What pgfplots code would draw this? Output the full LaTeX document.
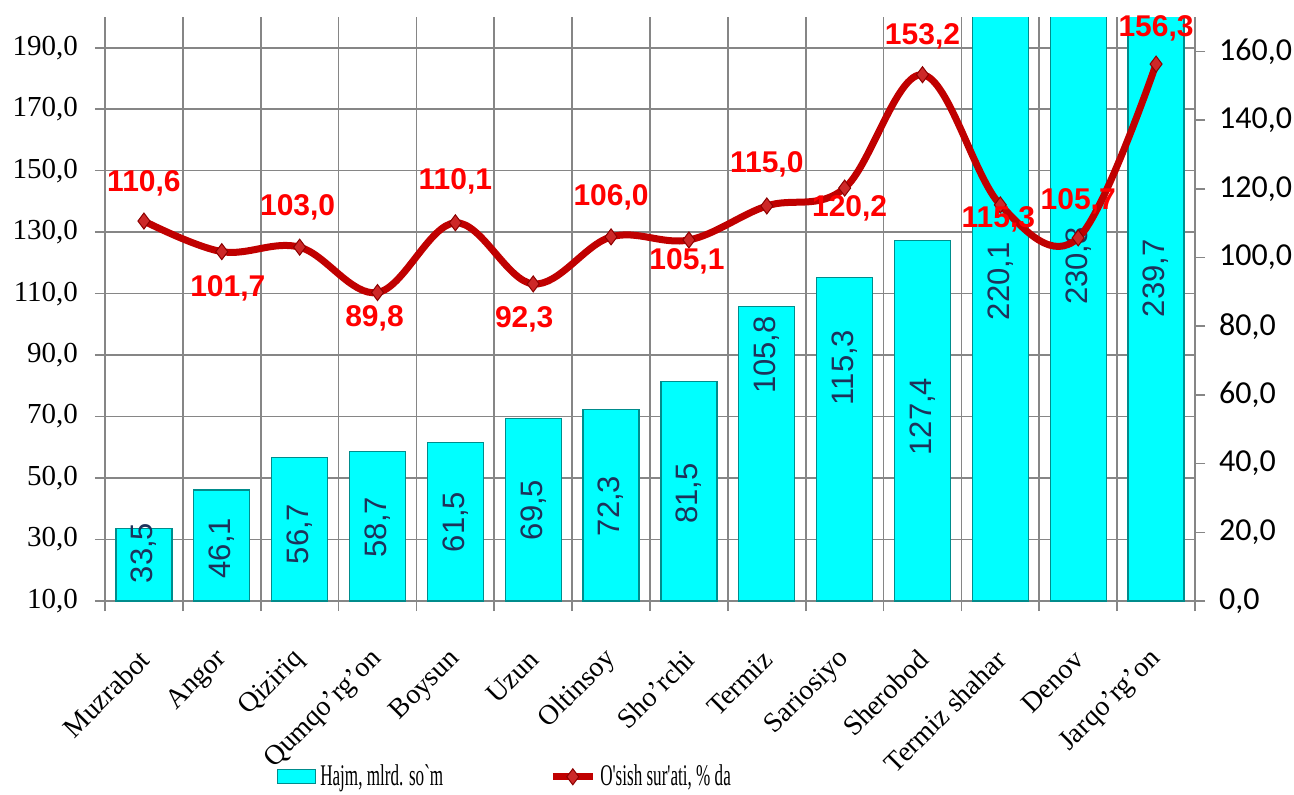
\documentclass[border=0pt]{standalone}
\usepackage{fontspec}
\setmainfont{Liberation Serif}
\newfontfamily\arialf{Liberation Sans}
\newfontfamily\calib{Carlito}
\newfontfamily\legf[FakeStretch=0.57]{Liberation Serif}
\usepackage{pgfplots}
\usepackage{pgfplotstable}
\pgfplotsset{compat=1.18}

\definecolor{barcyan}{RGB}{0,255,255}
\definecolor{baredge}{RGB}{0,140,140}
\definecolor{linered}{RGB}{192,0,0}
\definecolor{markred}{RGB}{205,40,40}
\definecolor{markedge}{RGB}{140,0,0}
\definecolor{lblred}{RGB}{255,0,0}
\definecolor{gridgray}{RGB}{134,134,134}
\definecolor{barlbl}{RGB}{30,50,90}

% x, volume (mlrd. so'm), growth (%)
\pgfplotstableread{
x vol growth
0 33.5 110.6
1 46.1 101.7
2 56.7 103.0
3 58.7 89.8
4 61.5 110.1
5 69.5 92.3
6 72.3 106.0
7 81.5 105.1
8 105.8 115.0
9 115.3 120.2
10 127.4 153.2
11 220.1 115.3
12 230.8 105.7
13 239.7 156.3
}\datatab

\pgfplotsset{
  common/.style={
    scale only axis, width=545pt, height=292pt,
    xmin=-0.5, xmax=13.5,
    axis line style={gridgray, line width=0.9pt, -},
    tick align=outside, major tick length=5pt, minor tick length=5pt,
    /pgf/number format/fixed,
    /pgf/number format/fixed zerofill,
    /pgf/number format/precision=1,
    /pgf/number format/use comma,
    /pgf/number format/assume math mode=true,
  },
  barleg/.style={legend image code/.code={\draw[##1] (0pt,-3.5pt) rectangle (19pt,3.5pt);}},
  lineleg/.style={legend image code/.code={\draw[mark repeat=2, mark phase=2, ##1]
    plot coordinates {(0pt,0pt) (10pt,0pt) (20pt,0pt)};}},
}

\begin{document}
\begin{tikzpicture}
\path[use as bounding box] (-52.5pt,-96.5pt) rectangle (594.5pt,300.5pt);

\begin{axis}[
  common,
  ymin=10, ymax=200,
  axis x line*=bottom, axis y line*=left,
  xtick={0,...,13},
  xticklabels={Muzrabot, Angor, Qiziriq, Qumqo'rg'on, Boysun, Uzun, Oltinsoy,
    Sho'rchi, Termiz, Sariosiyo, Sherobod, Termiz shahar, Denov, Jarqo'rg'on},
  major x tick style={draw=none},
  minor xtick={-0.5,0.5,...,13.5},
  minor x tick style={gridgray, line width=0.8pt},
  xminorgrids,
  ytick={10,30,...,190},
  ymajorgrids,
  grid style={gridgray, line width=0.8pt},
  minor grid style={gridgray, line width=0.8pt},
  y tick style={gridgray, line width=0.8pt},
  yticklabel style={font=\fontsize{14.5}{16}\selectfont, xshift=-5pt},
  xticklabel style={font=\fontsize{14}{16}\selectfont, inner sep=0pt,
    xshift=0.5pt, yshift=-22pt, rotate=45, anchor=east},
]
\addplot[ybar, bar width=28pt, fill=barcyan, draw=baredge, line width=0.6pt]
  table[x=x, y=vol]{\datatab};

\begin{scope}[every node/.style={rotate=90, text=barlbl,
    font=\arialf\fontsize{15.5}{17}\selectfont}]
\node at (axis cs:0,25.6) {33,5};
\node at (axis cs:1,27.2) {46,1};
\node at (axis cs:2,31.8) {56,7};
\node at (axis cs:3,34) {58,7};
\node at (axis cs:4,35.7) {61,5};
\node at (axis cs:5,39.6) {69,5};
\node at (axis cs:6,40.9) {72,3};
\node at (axis cs:7,45) {81,5};
\node at (axis cs:8,90) {105,8};
\node at (axis cs:9,86) {115,3};
\node at (axis cs:10,70) {127,4};
\node at (axis cs:11,114) {220,1};
\node at (axis cs:12,119) {230,8};
\node at (axis cs:13,115) {239,7};
\end{scope}
\end{axis}

\begin{axis}[
  common,
  ymin=0, ymax=170,
  axis x line=none, axis y line*=right,
  ytick={0,20,...,160},
  y tick style={gridgray, line width=0.8pt},
  yticklabel style={font=\calib\fontsize{16}{18}\selectfont, xshift=3.5pt},
  clip mode=individual,
  legend columns=2,
  legend style={at={(0.152,-0.301)}, anchor=west, draw=none, fill=none,
    font=\legf\fontsize{15}{17}\selectfont,
    /tikz/every even column/.append style={column sep=51pt}},
]
\addlegendimage{barleg, fill=barcyan, draw=baredge, line width=0.6pt}
\addlegendentry{Hajm, mlrd. so`m}
\addplot[lineleg, linered, line width=3.5pt, smooth, tension=0.6,
  mark=diamond*, mark size=4pt,
  mark options={solid, fill=markred, draw=markedge, line width=0.5pt}]
  table[x=x, y=growth]{\datatab};
\addlegendentry{O'sish sur'ati, \% da}

\begin{scope}[every node/.style={text=lblred,
    font=\arialf\bfseries\fontsize{15}{17}\selectfont}]
\node at (axis cs:0,110.6) [yshift=19pt] {110,6};
\node at (axis cs:1,101.7) [xshift=3pt, yshift=-18.5pt] {101,7};
\node at (axis cs:2,103.0) [xshift=-1pt, yshift=20pt] {103,0};
\node at (axis cs:3,89.8) [xshift=-1.5pt, yshift=-13pt] {89,8};
\node at (axis cs:4,110.1) [yshift=20.5pt] {110,1};
\node at (axis cs:5,92.3) [xshift=-4.5pt, yshift=-17.5pt] {92,3};
\node at (axis cs:6,106.0) [yshift=20pt] {106,0};
\node at (axis cs:7,105.1) [xshift=-1pt, yshift=-10.5pt] {105,1};
\node at (axis cs:8,115.0) [yshift=21pt] {115,0};
\node at (axis cs:9,120.2) [xshift=2.5pt, yshift=-10pt] {120,2};
\node at (axis cs:10,153.2) [yshift=19pt] {153,2};
\node at (axis cs:11,115.3) [xshift=-1pt, yshift=-7pt] {115,3};
\node at (axis cs:12,105.7) [yshift=18.5pt] {105,7};
\node at (axis cs:13,156.3) [yshift=18pt] {156,3};
\end{scope}
\end{axis}
\end{tikzpicture}
\end{document}
